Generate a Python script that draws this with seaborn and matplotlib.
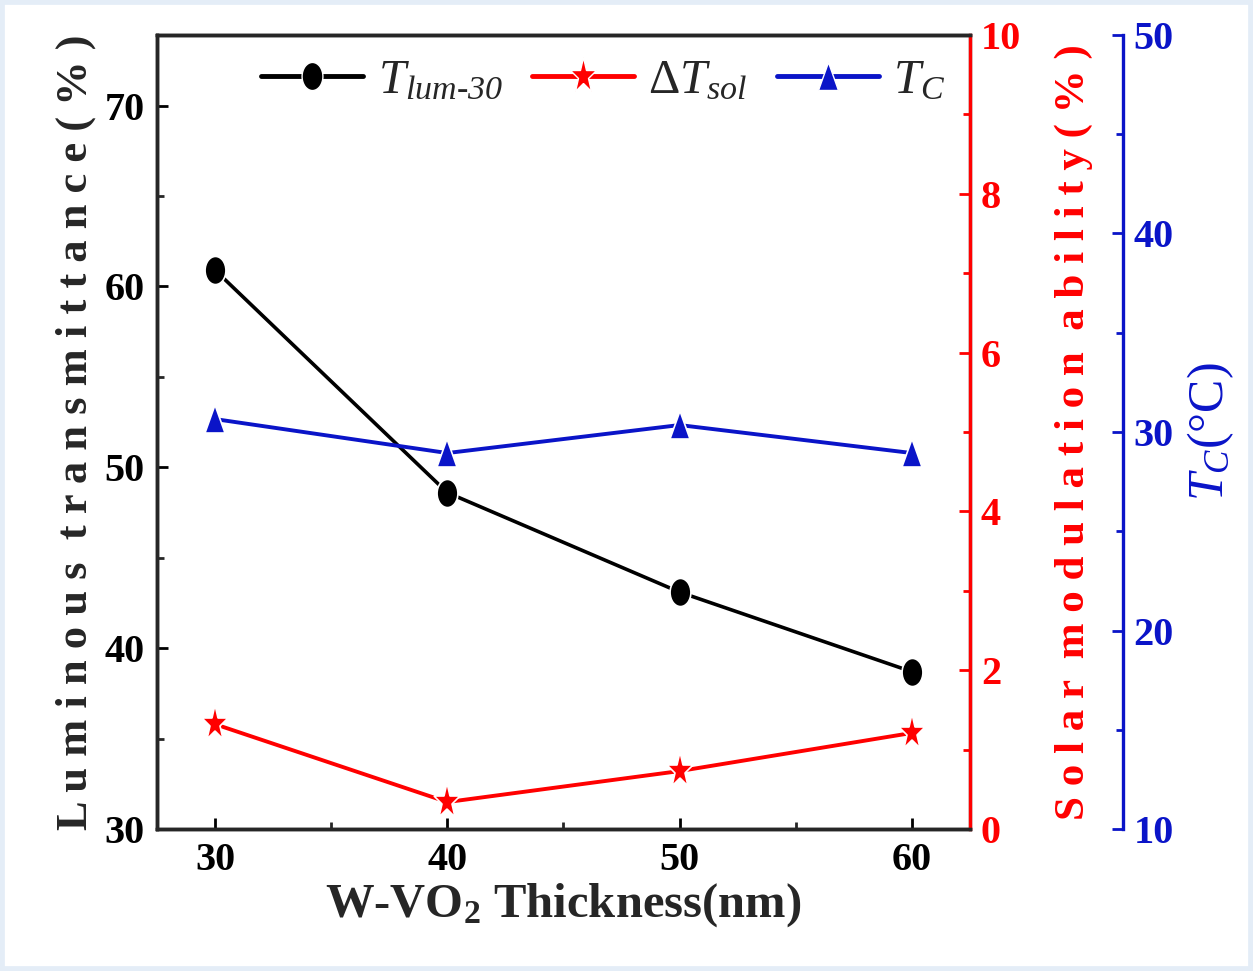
import matplotlib
matplotlib.use("Agg")
import matplotlib.pyplot as plt
import seaborn as sns
import pandas as pd
from matplotlib.ticker import MultipleLocator
from matplotlib.markers import MarkerStyle
from matplotlib.transforms import Affine2D
from matplotlib.patches import Rectangle

thickness = [30, 40, 50, 60]
t_lum = [60.9, 48.6, 43.1, 38.7]
delta_t_sol = [1.32, 0.34, 0.73, 1.21]
t_c = [30.65, 28.94, 30.35, 28.94]

sns.set_style("ticks")
plt.rcParams['font.family'] = ['Liberation Serif', 'DejaVu Serif']
plt.rcParams['mathtext.fontset'] = 'custom'
plt.rcParams['mathtext.rm'] = 'Liberation Serif'
plt.rcParams['mathtext.it'] = 'Liberation Serif:italic'
plt.rcParams['mathtext.bf'] = 'Liberation Serif:bold'
plt.rcParams['mathtext.sf'] = 'Liberation Serif:italic'
plt.rcParams['font.weight'] = 'normal'

BLUE = "#0a14c8"

df = pd.DataFrame({"x": thickness, "lum": t_lum, "sol": delta_t_sol, "tc": t_c})

stretch = Affine2D().scale(1.0, 1.35)
m_circle = MarkerStyle("o", transform=stretch)
m_star = MarkerStyle("*", transform=stretch)
m_tri = MarkerStyle("^", transform=stretch)

fig = plt.figure(figsize=(12.53, 9.71), dpi=100)
ax = fig.add_axes([0.1253, 0.1462, 0.774 - 0.1253, 0.964 - 0.1462])
ax2 = ax.twinx()
ax3 = ax.twinx()
ax3.spines['right'].set_position(('outward', 110))

common = dict(markeredgecolor="white", markeredgewidth=1.2, legend=False)
sns.lineplot(data=df, x="x", y="lum", ax=ax, color="black", marker=m_circle,
             markersize=15, linewidth=2.6, **common)
sns.lineplot(data=df, x="x", y="sol", ax=ax2, color="red", marker=m_star,
             markersize=20, linewidth=2.8, **common)
sns.lineplot(data=df, x="x", y="tc", ax=ax3, color=BLUE, marker=m_tri,
             markersize=15, linewidth=2.8, **common)

ax.set_xlim(27.5, 62.5)
ax.set_ylim(30, 73.9)
ax2.set_ylim(0, 10)
ax3.set_ylim(10, 50)

ax.xaxis.set_major_locator(MultipleLocator(10))
ax.xaxis.set_minor_locator(MultipleLocator(5))
ax.yaxis.set_major_locator(MultipleLocator(10))
ax.yaxis.set_minor_locator(MultipleLocator(5))
ax2.yaxis.set_major_locator(MultipleLocator(2))
ax2.yaxis.set_minor_locator(MultipleLocator(1))
ax3.yaxis.set_major_locator(MultipleLocator(10))
ax3.yaxis.set_minor_locator(MultipleLocator(5))

for a in (ax, ax2, ax3):
    for s in a.spines.values():
        s.set_linewidth(2.4)

ax.tick_params(axis='both', which='major', direction='in', length=8, width=2,
               labelsize=29, pad=9, colors='black')
ax.tick_params(axis='both', which='minor', direction='in', length=5, width=2)
ax.tick_params(axis='x', top=False, which='both')
ax.spines['top'].set_color('black')

ax2.spines['right'].set_color('red')
ax2.tick_params(axis='y', which='major', direction='in', length=8, width=2,
                labelsize=29, colors='red', pad=8)
ax2.tick_params(axis='y', which='minor', direction='in', length=5, width=2, colors='red')

ax3.spines['right'].set_color(BLUE)
ax3.tick_params(axis='y', which='major', direction='in', length=8, width=2,
                labelsize=29, colors=BLUE, pad=8)
ax3.tick_params(axis='y', which='minor', direction='in', length=5, width=2, colors=BLUE)

for lab in ax.get_xticklabels() + ax.get_yticklabels() + ax2.get_yticklabels() + ax3.get_yticklabels():
    lab.set_fontweight('bold')

ax.set_xlabel(r"W-VO$_\mathbf{2}$ Thickness(nm)", fontsize=35, fontweight='bold', labelpad=2)
ax.set_ylabel("L u m i n o u s  t r a n s m i t t a n c e ( % )", fontsize=32,
              fontweight='bold', labelpad=6)
ax2.set_ylabel("S o l a r  m o d u l a t i o n  a b i l i t y ( % )", fontsize=31,
               fontweight='bold', color='red', labelpad=24)
ax3.set_ylabel(r"$T_C$(°C)", fontsize=36, color=BLUE, labelpad=8, fontweight='normal')

# legend
h1, = ax.plot([], [], color="black", marker=m_circle, markersize=15, linewidth=3.5,
              markeredgecolor="white", markeredgewidth=1.0)
h2, = ax.plot([], [], color="red", marker=m_star, markersize=20, linewidth=3.5,
              markeredgecolor="white", markeredgewidth=1.0)
h3, = ax.plot([], [], color=BLUE, marker=m_tri, markersize=15, linewidth=3.5,
              markeredgecolor="white", markeredgewidth=1.0)
leg = ax.legend([h1, h2, h3],
                [r"$T_{\mathsf{lum}\mathsf{\text{-}}\mathsf{30}}$", r"$\Delta T_{sol}$", r"$T_C$"],
                loc='upper right', ncol=3, frameon=False, fontsize=35,
                handlelength=2.1, columnspacing=0.6, handletextpad=0.3,
                bbox_to_anchor=(1.0, 1.0), borderaxespad=0.1)

# light page border as in the reference
fig.patches.append(Rectangle((0, 0), 1, 1, transform=fig.transFigure, fill=False,
                             edgecolor="#e4edf7", linewidth=7, zorder=-1))

fig.savefig("out.png", dpi=100, facecolor='white')
